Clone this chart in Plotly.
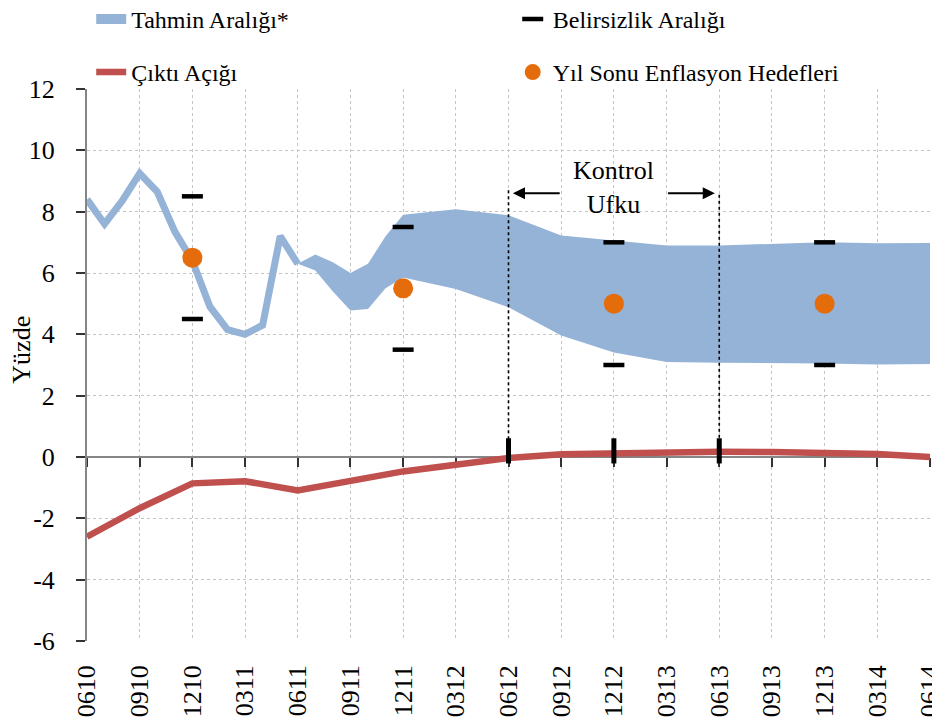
import plotly.graph_objects as go

# ---------------- data ----------------
# months counted from June 2010 (0 = 0610)
quarter_labels = ["0610", "0910", "1210", "0311", "0611", "0911", "1211", "0312", "0612",
                  "0912", "1212", "0313", "0613", "0913", "1213", "0314", "0614"]
quarter_months = [0, 3, 6, 9, 12, 15, 18, 21, 24, 27, 30, 33, 36, 39, 42, 45, 48]

y_tick_values = [-6, -4, -2, 0, 2, 4, 6, 8, 10, 12]
y_tick_labels = ["-6", "-4", "-2", "0", "2", "4", "6", "8", "10", "12"]

actual_months = [0, 1, 2, 3, 4, 5, 6, 7, 8, 9, 10, 11, 12]
actual_inflation = [8.4, 7.6, 8.35, 9.25, 8.65, 7.35, 6.4, 4.9, 4.15, 4.0, 4.3, 7.2, 6.3]

band_months = [12, 13, 14, 15, 16, 17, 18, 21, 24, 27, 30, 33, 36, 39, 42, 45, 48]
band_upper = [6.3, 6.6, 6.35, 6.0, 6.3, 7.2, 7.9, 8.08, 7.88, 7.22, 7.06, 6.9, 6.9, 6.95, 7.0, 6.97, 6.98]
band_lower = [6.3, 6.08, 5.4, 4.78, 4.83, 5.5, 5.85, 5.48, 4.88, 3.96, 3.41, 3.1, 3.07, 3.07, 3.05, 3.02, 3.03]

output_gap = [-2.6, -1.67, -0.86, -0.79, -1.09, -0.76, -0.47, -0.25, -0.03, 0.09,
              0.13, 0.16, 0.17, 0.16, 0.14, 0.1, 0.0]

target_months = [6, 18, 30, 42]
targets = [6.5, 5.5, 5.0, 5.0]
uncertainty_upper = [8.5, 7.5, 7.0, 7.0]
uncertainty_lower = [4.5, 3.5, 3.0, 3.0]

horizon_marks = [24, 30, 36]
horizon_mark_y = [0.2, 0.2, 0.2]
control_start, control_end = 24, 36
control_line_top = [8.7, 8.55]
arrow_level = 8.6
label_level = 8.8

# ---------------- styles ----------------
BLUE = "#95B3D7"
RED = "#C0504D"
ORANGE = "#E46C0A"
GRID = "#c4c4c4"
AXIS = "#858585"
FONT = "Liberation Serif, DejaVu Serif, serif"

fig = go.Figure()

# forecast band
fig.add_trace(go.Scatter(x=band_months, y=band_lower, mode="lines", line=dict(width=0, color=BLUE),
                         showlegend=False, hoverinfo="skip"))
fig.add_trace(go.Scatter(x=band_months, y=band_upper, mode="lines", line=dict(width=0, color=BLUE),
                         fill="tonexty", fillcolor=BLUE, showlegend=False))
# legend swatch for the band
fig.add_trace(go.Scatter(x=[None], y=[None], mode="lines", line=dict(width=20, color=BLUE),
                         name="Tahmin Aralığı*", legend="legend", legendgroup="a", legendrank=1))

# actual inflation
fig.add_trace(go.Scatter(x=actual_months, y=actual_inflation, mode="lines",
                         line=dict(width=7, color=BLUE), showlegend=False))

# control horizon dotted lines
for m, top in zip([control_start, control_end], control_line_top):
    fig.add_trace(go.Scatter(x=[m, m], y=[top, 0], mode="lines",
                             line=dict(width=1.6, color="black", dash="dot"),
                             showlegend=False, hoverinfo="skip"))

# uncertainty dashes
fig.add_trace(go.Scatter(x=target_months + target_months, y=uncertainty_upper + uncertainty_lower,
                         mode="markers", name="Belirsizlik Aralığı",
                         marker=dict(symbol="line-ew", size=15, line=dict(width=4.5, color="black")),
                         legend="legend2", legendgroup="c", legendrank=1))

# targets
fig.add_trace(go.Scatter(x=target_months, y=targets, mode="markers", name="Yıl Sonu Enflasyon Hedefleri",
                         marker=dict(size=20, color=ORANGE),
                         legend="legend2", legendgroup="d", legendrank=2))

# output gap (on overlay axis whose line sits at y=0)
fig.add_trace(go.Scatter(x=quarter_months, y=output_gap, mode="lines", xaxis="x2",
                         line=dict(width=6.5, color=RED), name="Çıktı Açığı",
                         legend="legend", legendgroup="b", legendrank=2))

fig.add_trace(go.Scatter(x=horizon_marks, y=horizon_mark_y, mode="markers", xaxis="x2",
                         marker=dict(symbol="line-ns", size=18, line=dict(width=5, color="black")),
                         showlegend=False, hoverinfo="skip"))

# annotations: control horizon
fig.add_annotation(x=(control_start + control_end) / 2, y=label_level, text="Kontrol<br>Ufku",
                   showarrow=False, font=dict(family=FONT, size=26, color="black"))
fig.add_annotation(x=control_start + 0.25, y=arrow_level, ax=control_start + 3.0, ay=arrow_level,
                   xref="x", yref="y", axref="x", ayref="y", text="", showarrow=True,
                   arrowhead=2, arrowsize=1.1, arrowwidth=2.2, arrowcolor="black")
fig.add_annotation(x=control_end - 0.25, y=arrow_level, ax=control_end - 3.0, ay=arrow_level,
                   xref="x", yref="y", axref="x", ayref="y", text="", showarrow=True,
                   arrowhead=2, arrowsize=1.1, arrowwidth=2.2, arrowcolor="black")

# y-axis title
fig.add_annotation(x=-0.0771, xref="paper", y=3.5, yref="y", text="Yüzde", textangle=-90,
                   xanchor="center", yanchor="middle",
                   showarrow=False, font=dict(family=FONT, size=26, color="black"))

fig.update_layout(
    width=932, height=716,
    margin=dict(l=79, r=10, t=81, b=83, autoexpand=False),
    plot_bgcolor="white", paper_bgcolor="white",
    font=dict(family=FONT, size=26, color="black"),
    xaxis=dict(range=[0, 48], tickvals=quarter_months, ticktext=quarter_labels, tickangle=-90,
               showgrid=True, gridcolor=GRID, griddash="dot", gridwidth=1,
               ticks="", showline=False, zeroline=False, ticklabelstandoff=18, automargin=False,
               ticklabeloverflow="allow", tickfont=dict(family=FONT, size=26)),
    xaxis2=dict(overlaying="x", anchor="free", position=1 / 3, range=[0, 48], tickvals=quarter_months,
                ticks="outside", ticklen=9, tickwidth=1.5, tickcolor="#333333", showticklabels=False,
                showgrid=False, showline=True, linecolor=AXIS, linewidth=2, zeroline=False,
                layer="below traces"),
    yaxis=dict(range=[-6, 12], tickvals=y_tick_values, ticktext=y_tick_labels, showgrid=True,
               gridcolor=GRID, griddash="dot",
               zeroline=False, showline=True, linecolor=AXIS, linewidth=2, ticks="outside",
               ticklen=9, tickwidth=1.5, tickcolor="#333333", ticklabelstandoff=16, automargin=False,
               tickfont=dict(family=FONT, size=26)),
    legend=dict(x=0.005, y=1.167, xanchor="left", yanchor="top", bgcolor="rgba(0,0,0,0)",
                font=dict(family=FONT, size=24), traceorder="grouped", tracegroupgap=19),
    legend2=dict(x=0.505, y=1.167, xanchor="left", yanchor="top", bgcolor="rgba(0,0,0,0)",
                 font=dict(family=FONT, size=24), traceorder="grouped", tracegroupgap=19),
    showlegend=True,
)

fig.write_html("out.html")
